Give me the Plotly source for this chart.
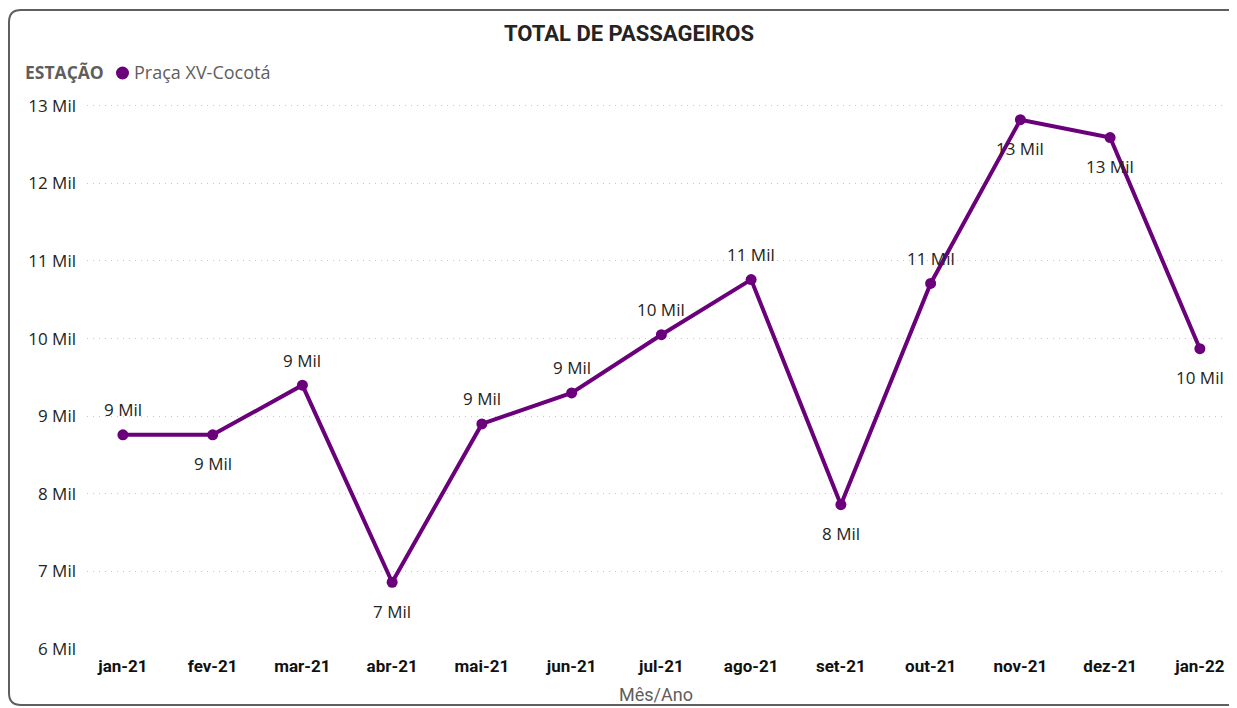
import plotly.graph_objects as go

meses = ["jan-21", "fev-21", "mar-21", "abr-21", "mai-21", "jun-21", "jul-21",
         "ago-21", "set-21", "out-21", "nov-21", "dez-21", "jan-22"]
passageiros_mil = [8.76, 8.76, 9.40, 6.86, 8.90, 9.30, 10.05, 10.76, 7.86, 10.71, 12.82, 12.59, 9.87]
rotulo_acima = [True, False, True, False, True, True, True, True, False, True, False, False, False]
y_ticks = [6, 7, 8, 9, 10, 11, 12, 13]
y_tick_labels = [f"{v} Mil" for v in y_ticks]
estacao = "Praça XV-Cocotá"

COR = "#6B007B"
W, H = 1237, 708
L, R, T, B = 79, 20, 90, 67

fig = go.Figure()
fig.add_trace(go.Scatter(
    x=meses, y=passageiros_mil, mode="lines+markers",
    line=dict(color=COR, width=4),
    marker=dict(color=COR, size=11),
    showlegend=False, cliponaxis=False, hoverinfo="x+y",
))

for m, v, acima in zip(meses, passageiros_mil, rotulo_acima):
    fig.add_annotation(
        x=m, y=v, text=f"{round(v):.0f} Mil", showarrow=False,
        yshift=25 if acima else -29, yanchor="middle", xanchor="center",
        font=dict(family="Open Sans", size=17, color="#252423"),
    )

pw = W - L - R
ph = H - T - B
def px(x):
    return (x - L) / pw
def py(y):
    return 1 - (y - T) / ph

x0, x1, y0, y1, r = 1, 1242, 2, 697, 12
path = (f"M {px(x0)},{py(y0 + r)} Q {px(x0)},{py(y0)} {px(x0 + r)},{py(y0)} "
        f"L {px(x1 - r)},{py(y0)} Q {px(x1)},{py(y0)} {px(x1)},{py(y0 + r)} "
        f"L {px(x1)},{py(y1 - r)} Q {px(x1)},{py(y1)} {px(x1 - r)},{py(y1)} "
        f"L {px(x0 + r)},{py(y1)} Q {px(x0)},{py(y1)} {px(x0)},{py(y1 - r)} Z")
fig.add_shape(type="path", path=path, xref="paper", yref="paper",
              line=dict(color="#5f5f5f", width=2), layer="below")

# legend: title, marker dot, series name
fig.add_annotation(
    xref="paper", yref="paper", x=px(15), y=py(64), xanchor="left", yanchor="middle",
    showarrow=False, text="<b>ESTAÇÃO</b>",
    font=dict(family="Open Sans", size=17.5, color="#605E5C"),
)
fig.add_shape(
    type="circle", xref="paper", yref="paper", xsizemode="pixel", ysizemode="pixel",
    xanchor=px(114.5), yanchor=py(65), x0=-6.5, x1=6.5, y0=-6.5, y1=6.5,
    fillcolor=COR, line=dict(width=0),
)
fig.add_annotation(
    xref="paper", yref="paper", x=px(124), y=py(64), xanchor="left", yanchor="middle",
    showarrow=False, text=estacao,
    font=dict(family="Open Sans", size=18, color="#605E5C"),
)

fig.update_layout(
    width=W, height=H,
    margin=dict(l=L, r=R, t=T, b=B),
    paper_bgcolor="white", plot_bgcolor="white",
    title=dict(text="<b>TOTAL DE PASSAGEIROS</b>", x=621 / W, xanchor="center",
               xref="container", y=1 - 25 / H, yanchor="middle", yref="container",
               font=dict(family="Roboto", size=22, color="#252423")),
    showlegend=False,
    font=dict(family="Open Sans"),
)
fig.update_xaxes(
    type="category", range=[-0.4, 12.28],
    showgrid=False, zeroline=False, showline=False, ticks="",
    tickfont=dict(family="Roboto", size=17, color="#111111", weight="bold"),
    ticklabelstandoff=5,
    title=dict(text="Mês/Ano", font=dict(family="Roboto", size=18, color="#605E5C"), standoff=13),
)
fig.update_yaxes(
    range=[6, 13.10], tickvals=y_ticks, ticktext=y_tick_labels,
    showgrid=True, gridcolor="#C8C6C4", griddash="1px,5px", gridwidth=1,
    zeroline=False, showline=False, ticks="",
    tickfont=dict(family="Open Sans", size=17, color="#252423"),
    ticklabelstandoff=10,
)

fig.write_html("out.html")
